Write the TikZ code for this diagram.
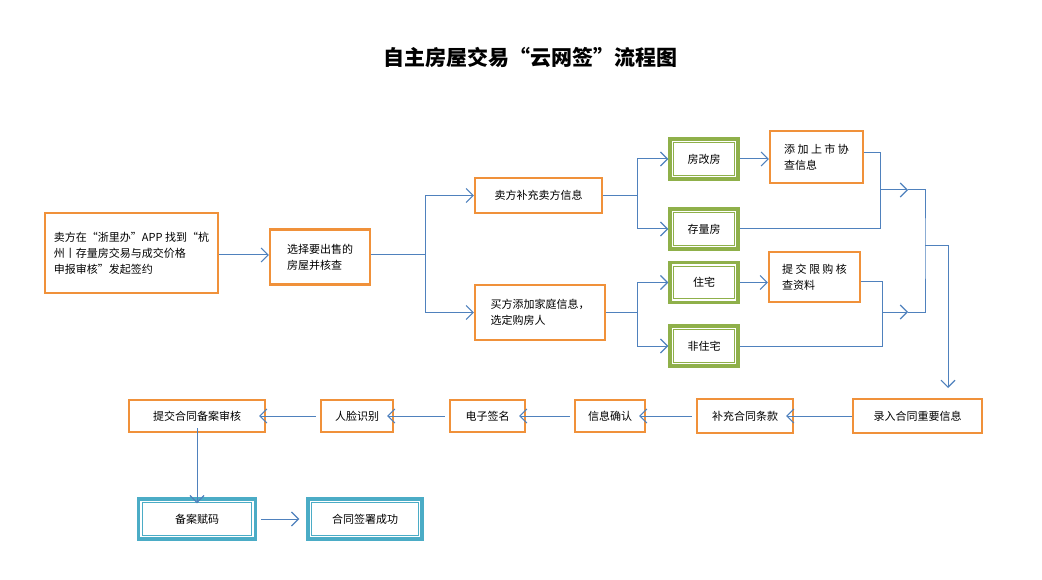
\documentclass[tikz,border=0pt]{standalone}
\usepackage{fontspec}
\setmainfont{Noto Sans CJK SC}
\usetikzlibrary{arrows.meta}
\definecolor{org}{HTML}{F0913A}
\definecolor{grn}{HTML}{8FB04A}
\definecolor{teal}{HTML}{4BACC6}
\definecolor{arr}{HTML}{4F81BD}
\begin{document}
\begin{tikzpicture}[x=1pt,y=-1pt,
  every node/.style={font=\fontsize{11}{16}\selectfont, inner sep=2pt},
  ob/.style={draw=org, line width=2.2pt, fill=white, minimum width=#1, minimum height=32pt},
  dbl/.style 2 args={draw=#1, line width=3.5pt, minimum width=#2, minimum height=40pt,
    path picture={\draw[#1, line width=0.9pt] ([shift={(3.6pt,-3.6pt)}]path picture bounding box.north west) rectangle ([shift={(-3.6pt,3.6pt)}]path picture bounding box.south east);}},
  ar/.style={arr, line width=1pt, -{Straight Barb[length=7pt,width=14pt,line width=1.1pt]}},
  ln/.style={arr, line width=1pt}]
\useasboundingbox (0,0) rectangle (1042,580);
\node[font=\fontsize{21}{24}\selectfont\bfseries] (title) at (530,58) {自主房屋交易“云网签”流程图};

\node[ob=173pt, minimum height=80pt, align=left] (A) at (131.5,253) {卖方在“浙里办”APP 找到“杭\\州丨存量房交易与成交价格\\申报审核”发起签约};
\node[ob=100pt, minimum height=55pt, align=left] (B) at (320,257) {选择要出售的\\房屋并核查};
\node[ob=127pt, minimum height=35pt] (C) at (538.5,195.5) {卖方补充卖方信息};
\node[ob=130pt, minimum height=55pt, align=left] (D) at (540,312.5) {买方添加家庭信息，\\选定购房人};
\node[dbl={grn}{68pt}] (E) at (704,159) {房改房};
\node[dbl={grn}{68pt}] (F) at (704,229) {存量房};
\node[ob=93pt, minimum height=52pt, align=left] (G) at (816.5,157) {添 加 上 市 协\\查信息};
\node[dbl={grn}{68pt}] (H) at (704,282.5) {住宅};
\node[dbl={grn}{68pt}] (I) at (704,346) {非住宅};
\node[ob=91pt, minimum height=50pt, align=left] (J) at (814.5,277) {提 交 限 购 核\\查资料};
\node[ob=129pt, minimum height=34pt] (K) at (917.5,416) {录入合同重要信息};
\node[ob=96pt, minimum height=34pt] (L) at (745,416) {补充合同条款};
\node[ob=70pt] (M) at (610,416) {信息确认};
\node[ob=75pt] (N) at (487.5,416) {电子签名};
\node[ob=72pt] (O) at (357,416) {人脸识别};
\node[ob=136pt] (P) at (197,416) {提交合同备案审核};
\node[dbl={teal}{117pt}] (Q) at (197,519) {备案赋码};
\node[dbl={teal}{114pt}] (R) at (365,519) {合同签署成功};

\coordinate (b1) at (425,255);
\draw[ar] (A.east |- 0,255) -- (B.west |- 0,255);
\draw[ln] (B.east |- b1) -- (b1);
\draw[ar] (b1) |- (C.west);
\draw[ar] (b1) |- (D.west);
\coordinate (c1) at (637,195.5);
\draw[ln] (C.east) -- (c1);
\draw[ar] (c1) |- (E.west);
\draw[ar] (c1) |- (F.west);
\coordinate (d1) at (637,312.5);
\draw[ln] (D.east) -- (d1);
\draw[ar] (d1) |- (H.west);
\draw[ar] (d1) |- (I.west);
\draw[ar] (E.east) -- (G.west |- E.east);
\draw[ar] (H.east) -- (J.west |- H.east);
\coordinate (g1) at (880,190);
\coordinate (g2) at (908,190);
\draw[ln] (G.east |- 0,153) -| (g1);
\draw[ln] (F.east) -| (g1);
\draw[ar] (g1) -- (g2);
\coordinate (j1) at (882,312);
\coordinate (j2) at (908,312);
\draw[ln] (J.east |- 0,282) -| (j1);
\draw[ln] (I.east) -| (j1);
\draw[ar] (j1) -- (j2);
\coordinate (m1) at (925,246);
\draw[ln] (g2) -| (m1) |- (j2);
\draw[ar] (m1) -| (948,388);
\draw[ar] (K.west) -- ([xshift=-8pt]L.east);
\draw[ar] ([xshift=-4pt]L.west) -- ([xshift=-7pt]M.east);
\draw[ar] ([xshift=-4pt]M.west) -- ([xshift=-7pt]N.east);
\draw[ar] ([xshift=-4pt]N.west) -- ([xshift=-7pt]O.east);
\draw[ar] ([xshift=-4pt]O.west) -- ([xshift=-7pt]P.east);
\draw[ar] ([yshift=5pt]P.south) -- ([yshift=-6pt]Q.north);
\draw[ar] ([xshift=4pt]Q.east) -- ([xshift=-7pt]R.west);
\end{tikzpicture}
\end{document}
